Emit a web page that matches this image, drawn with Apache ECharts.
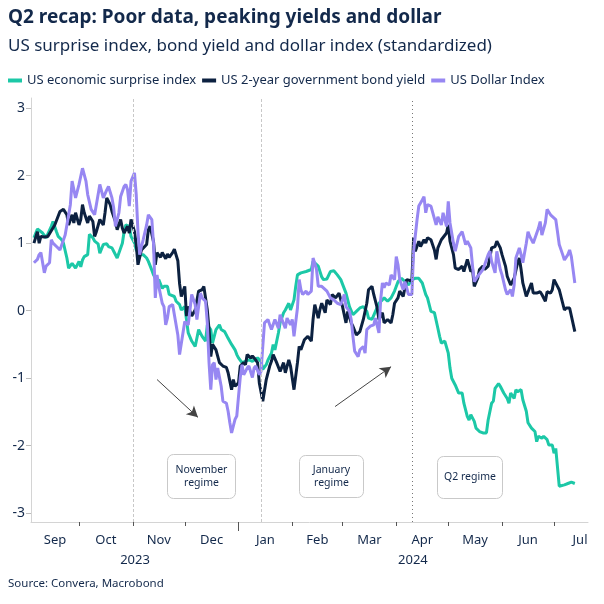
<!DOCTYPE html>
<html>
<head>
<meta charset="utf-8">
<script src="https://cdn.jsdelivr.net/npm/echarts@6/dist/echarts.min.js"></script>
<style>
html,body{margin:0;padding:0;background:#fff;}
#chart{width:604px;height:604px;}
</style>
</head>
<body>
<div id="chart"></div>
<script>
// x positions: days since 2023-09-01
const surpriseDays = [4,6,7,9,11,12,14,15,17,18,20,21,23,24,26,27,28,30,31,32,33,35,36,38,39,41,42,44,46,47,49,50,52,53,55,56,57,59,60,62,63,65,67,69,70,72,73,75,76,78,79,81,82,83,85,86,88,89,91,93,95,97,99,101,103,104,106,107,109,111,112,114,116,118,120,121,122,124,126,128,130,131,133,135,136,138,139,141,142,143,145,146,148,149,151,152,154,155,156,158,161,162,164,165,166,168,170,171,173,175,177,179,181,182,184,186,188,190,192,194,196,197,199,201,203,205,206,208,210,212,214,216,218,220,222,224,226,228,230,231,233,235,237,238,239,241,243,244,245,247,249,251,252,254,255,256,258,259,261,263,265,266,268,269,270,272,273,275,277,278,279,281,282,283,285,286,288,289,291,293,294,295,297,298,300,301,303,304,305,306,307,308,310,312,314,316];
const surpriseValues = [1.08,1.21,1.22,1.15,1.08,1.10,1.25,1.32,1.17,1.10,1.05,1.00,0.78,0.63,0.70,0.70,0.63,0.73,0.65,0.75,0.80,0.83,1.13,1.08,1.03,0.99,0.85,0.98,0.99,0.95,0.93,0.88,0.78,0.80,1.00,1.17,1.27,1.25,1.10,1.00,0.90,0.83,0.83,0.78,0.73,0.60,0.53,0.43,0.46,0.33,0.36,0.36,0.24,0.24,0.21,0.14,0.09,0.01,0.06,-0.33,-0.45,-0.53,-0.28,-0.38,-0.45,-0.21,-0.28,-0.48,-0.28,-0.21,-0.28,-0.31,-0.41,-0.50,-0.58,-0.65,-0.70,-0.77,-0.75,-0.73,-0.75,-0.73,-0.70,-0.75,-0.87,-0.80,-0.73,-0.63,-0.50,-0.58,-0.33,-0.18,-0.03,0.01,0.11,0.01,0.16,0.36,0.53,0.56,0.58,0.58,0.61,0.73,0.75,0.66,0.50,0.46,0.47,0.58,0.59,0.53,0.46,0.46,0.26,0.06,-0.06,-0.01,0.04,0.06,-0.01,-0.11,-0.13,-0.01,0.11,0.16,0.19,0.14,0.19,0.29,0.43,0.48,0.43,0.38,0.46,0.48,0.48,0.41,0.24,0.19,-0.01,-0.03,-0.26,-0.38,-0.48,-0.45,-0.63,-0.85,-1.00,-1.10,-1.22,-1.22,-1.37,-1.57,-1.62,-1.54,-1.64,-1.74,-1.79,-1.81,-1.81,-1.62,-1.37,-1.34,-1.15,-1.08,-1.12,-1.22,-1.30,-1.37,-1.22,-1.30,-1.17,-1.20,-1.17,-1.32,-1.49,-1.66,-1.74,-1.79,-1.94,-1.86,-1.89,-1.86,-1.91,-1.99,-1.99,-2.11,-2.04,-2.04,-2.60,-2.60,-2.58,-2.56,-2.54,-2.56];

const yieldDays = [4,6,7,8,10,12,13,16,19,21,23,24,26,27,28,30,31,32,33,35,36,38,39,40,42,44,45,46,48,49,51,52,54,55,56,58,59,60,62,63,64,66,67,69,70,71,73,74,75,77,78,80,81,82,84,85,87,88,89,91,92,93,95,97,99,101,102,104,105,106,107,109,111,113,115,116,118,119,120,122,123,125,126,127,129,130,131,133,134,136,137,138,140,141,142,144,145,146,148,149,151,152,154,156,157,158,160,162,164,165,166,168,169,170,172,173,175,176,178,180,181,182,184,185,187,188,190,192,194,196,197,199,200,202,203,205,206,208,210,211,212,214,215,217,218,219,220,222,223,224,226,227,229,230,231,233,235,236,237,239,240,242,243,244,246,247,249,251,252,254,256,257,258,260,261,263,264,266,268,270,271,273,274,276,277,279,280,281,283,284,285,286,288,289,291,292,294,296,297,299,300,302,303,304,306,307,308,310,311,313,314,316];
const yieldValues = [1.00,1.17,1.00,1.10,1.09,1.10,1.08,1.27,1.47,1.50,1.42,1.27,1.42,1.30,1.45,1.27,1.35,1.57,1.45,1.30,1.40,1.32,1.10,1.17,1.35,1.27,1.45,1.67,1.57,1.47,1.32,1.20,1.35,1.22,1.15,1.25,1.15,1.35,1.17,0.98,0.68,0.90,0.88,0.98,1.20,1.25,1.02,0.68,0.86,0.79,0.86,0.77,0.84,0.79,0.86,0.91,0.74,0.40,0.21,0.36,-0.08,0.06,-0.08,0.01,0.29,0.31,0.36,0.01,-0.28,-0.68,-0.50,-0.58,-0.77,-0.82,-0.84,-0.92,-1.17,-1.02,-1.12,-1.07,-0.82,-0.77,-0.80,-0.65,-0.70,-0.67,-0.70,-0.77,-1.07,-1.34,-1.32,-1.02,-0.82,-0.75,-0.65,-0.77,-0.75,-0.90,-0.77,-0.92,-0.73,-0.82,-1.17,-0.77,-0.53,-0.58,-0.43,-0.38,-0.45,-0.13,0.09,-0.11,0.02,0.11,-0.03,0.16,0.09,0.24,0.19,0.26,0.16,0.06,-0.18,-0.01,-0.18,-0.23,-0.36,-0.31,-0.13,0.11,0.31,0.36,0.24,0.04,-0.13,-0.03,-0.18,-0.13,-0.18,-0.06,0.11,0.19,0.29,0.21,0.34,0.46,0.48,0.44,1.08,0.88,1.03,0.95,1.05,1.00,1.08,1.05,0.90,0.76,0.93,1.05,1.05,1.15,1.27,1.03,0.83,0.63,0.61,0.66,0.58,0.76,0.58,0.61,0.36,0.48,0.61,0.66,0.61,0.66,0.93,0.95,1.03,0.93,0.83,0.66,0.51,0.38,0.36,0.48,0.71,0.78,0.61,0.41,0.21,0.21,0.41,0.26,0.26,0.28,0.24,0.14,0.28,0.26,0.31,0.46,0.36,0.31,0.31,0.01,0.04,0.04,0.04,-0.31];

const dollarDays = [4,6,7,8,10,11,13,14,15,17,19,20,22,23,25,26,28,29,30,32,33,34,35,37,38,39,40,42,43,44,46,47,49,50,51,53,54,56,57,58,59,60,62,63,64,65,66,67,69,70,72,73,74,75,76,78,79,80,81,82,84,85,87,88,89,91,93,94,95,97,98,100,101,103,104,105,106,107,108,109,110,112,113,115,116,117,118,120,121,122,123,124,125,127,128,130,131,132,134,135,136,137,139,140,141,143,145,146,147,149,150,152,153,154,156,157,158,159,161,162,164,165,166,167,168,170,171,173,175,177,179,181,182,183,184,186,187,188,189,191,192,194,195,196,198,200,201,203,204,205,206,207,209,210,212,213,214,215,217,218,219,220,222,223,225,226,228,229,230,231,233,234,236,237,239,240,242,243,244,246,247,249,251,253,254,256,257,258,260,261,263,264,266,267,268,270,271,273,274,276,277,279,280,281,282,284,285,286,288,289,290,292,293,295,296,297,299,300,302,303,305,306,307,309,310,312,313,314,316];
const dollarValues = [0.71,0.76,0.83,0.86,0.56,0.66,0.71,1.05,1.00,0.95,0.90,0.90,1.12,1.27,1.57,1.92,1.67,1.65,1.87,2.11,2.09,1.92,1.72,1.50,1.52,1.42,1.57,1.87,1.89,1.67,1.79,1.84,1.67,1.52,1.25,1.45,1.69,1.84,1.87,1.79,1.55,1.92,2.04,1.72,1.17,0.83,0.95,1.05,1.27,1.42,1.35,0.98,0.19,0.53,0.36,0.11,0.06,-0.21,-0.11,0.06,0.09,-0.06,-0.36,-0.65,-0.65,-0.16,-0.21,0.01,0.24,0.09,-0.13,0.26,0.19,0.14,-0.18,-0.77,-1.17,-0.80,-0.77,-1.02,-0.85,-1.12,-1.34,-1.37,-1.49,-1.66,-1.81,-1.61,-1.56,-1.27,-0.99,-0.80,-0.95,-0.85,-0.82,-0.99,-0.85,-0.82,-0.95,-0.90,-0.53,-0.18,-0.13,-0.21,-0.28,-0.13,-0.26,-0.06,-0.08,-0.26,-0.11,-0.21,-0.13,-0.38,0.04,0.46,0.31,0.24,0.29,0.24,0.29,0.78,0.70,0.61,0.36,0.36,0.34,0.29,0.19,0.16,0.11,0.09,0.16,0.24,0.06,-0.01,-0.13,-0.38,-0.60,-0.68,-0.58,-0.53,-0.63,-0.28,-0.23,-0.21,-0.11,-0.33,0.16,0.41,0.34,0.41,0.38,0.53,0.46,0.80,0.68,0.46,0.31,0.43,0.34,0.24,0.24,0.88,1.35,1.55,1.64,1.69,1.45,1.57,1.55,1.55,1.27,1.39,1.27,1.45,1.25,1.62,1.30,1.00,0.88,1.10,1.17,0.98,1.03,0.93,0.66,0.43,0.51,0.53,0.61,0.68,0.83,0.88,0.73,0.56,0.88,0.61,0.53,0.31,0.24,0.31,0.21,0.38,0.78,0.93,0.83,0.71,1.00,1.17,1.10,1.00,1.00,1.22,1.32,1.12,1.30,1.50,1.42,1.42,1.35,1.17,0.98,0.83,0.75,0.83,0.90,0.80,0.41];

const seriesNames = ['US economic surprise index','US 2-year government bond yield','US Dollar Index'];
const seriesColors = ['#1cc8a7','#0c2140','#9787f2'];

// month boundaries (days since 2023-09-01) and month labels
const monthTickDays = [0,30,61,91,122,153,182,213,243,274,304];
const monthLabels = ['Sep','Oct','Nov','Dec','Jan','Feb','Mar','Apr','May','Jun','Jul'];
const monthLabelDays = [16.2,45.5,76,106.5,137.5,167.5,197.5,228,258.5,289,319];
const yearLabels = ['2023','2024'];
const yearLabelDays = [62.3,222.6];
const yearBoundaryDay = 122;
const regimeLineDays = [61,135.4,222.2];
const yTicks = [-3,-2,-1,0,1,2,3];
const xMinDay = 2.3, xMaxDay = 323.6;

const navy = '#13294b';
const FONT = 'Noto Sans';

function pairs(days, vals){ return days.map((d,i)=>[d, vals[i]]); }
function nearestLabel(v, days, labels){
  let best=0, bd=Infinity;
  days.forEach((d,i)=>{ const dd=Math.abs(d-v); if(dd<bd){bd=dd;best=i;} });
  return labels[best];
}

const chart = echarts.init(document.getElementById('chart'), null, {renderer:'canvas'});

const option = {
  animation:false,
  backgroundColor:'#ffffff',
  textStyle:{fontFamily:FONT},
  title:[
    {text:'Q2 recap: Poor data, peaking yields and dollar', left:8, top:8, padding:0,
     textStyle:{fontFamily:FONT, fontSize:19, fontWeight:'bold', color:navy}},
    {text:'US surprise index, bond yield and dollar index (standardized)', left:8, top:38, padding:0,
     textStyle:{fontFamily:FONT, fontSize:17, fontWeight:'normal', color:navy}},
    {text:'Source: Convera, Macrobond', left:8, top:578, padding:0,
     textStyle:{fontFamily:FONT, fontSize:11.5, fontWeight:'normal', color:navy}}
  ],
  legend:{
    data:seriesNames, left:8, top:74, padding:0, itemGap:6,
    icon:'rect', itemWidth:14, itemHeight:4,
    textStyle:{fontFamily:FONT, fontSize:13, color:navy}
  },
  grid:{left:31, right:16, top:98, bottom:82, containLabel:false, outerBoundsMode:'none'},
  xAxis:[
    {type:'value', min:xMinDay, max:xMaxDay, position:'bottom',
     axisLine:{show:true, onZero:false, lineStyle:{color:'#d4d4d4', width:1}},
     axisTick:{show:true, length:4, lineStyle:{color:'#555'}, customValues:monthTickDays},
     axisLabel:{show:true, customValues:monthLabelDays, margin:12, fontSize:13, color:navy, fontFamily:FONT,
       formatter:v=>nearestLabel(v, monthLabelDays, monthLabels), hideOverlap:false, showMinLabel:true, showMaxLabel:true},
     splitLine:{show:false}},
    {type:'value', min:xMinDay, max:xMaxDay, position:'bottom', gridIndex:0,
     axisLine:{show:false, onZero:false},
     axisTick:{show:true, length:9, lineStyle:{color:'#555'}, customValues:[yearBoundaryDay]},
     axisLabel:{show:true, customValues:yearLabelDays, margin:32, fontSize:13, color:navy, fontFamily:FONT,
       formatter:v=>nearestLabel(v, yearLabelDays, yearLabels), hideOverlap:false},
     splitLine:{show:false}}
  ],
  yAxis:{type:'value', min:-3.13, max:3.15,
    axisLine:{show:true, onZero:false, lineStyle:{color:'#d4d4d4', width:1}},
    axisTick:{show:true, length:5, lineStyle:{color:'#bbb'}, customValues:yTicks},
    axisLabel:{show:true, customValues:yTicks, margin:6, fontSize:14, color:navy, fontFamily:FONT},
    splitLine:{show:false}},
  series:[
    {name:seriesNames[0], type:'line', data:pairs(surpriseDays, surpriseValues), showSymbol:false,
     lineStyle:{width:3, color:seriesColors[0]}, itemStyle:{color:seriesColors[0]}, z:2,
     markLine:{silent:true, symbol:['none','none'], label:{show:false},
       data:[
         {xAxis:regimeLineDays[0], lineStyle:{color:'#c8c8c8', type:[3,2], width:1}},
         {xAxis:regimeLineDays[1], lineStyle:{color:'#c8c8c8', type:[3,2], width:1}},
         {xAxis:regimeLineDays[2], lineStyle:{color:'#777', type:[1,3], width:1}}
       ]}},
    {name:seriesNames[1], type:'line', data:pairs(yieldDays, yieldValues), showSymbol:false,
     lineStyle:{width:3, color:seriesColors[1]}, itemStyle:{color:seriesColors[1]}, z:3},
    {name:seriesNames[2], type:'line', data:pairs(dollarDays, dollarValues), showSymbol:false,
     lineStyle:{width:3, color:seriesColors[2]}, itemStyle:{color:seriesColors[2]}, z:4,
     markLine:{silent:true, symbol:['none','arrow'], symbolSize:[9,11], label:{show:false},
       lineStyle:{color:'#444', type:'solid', width:1},
       data:[
         [{coord:[75.0, -1.02]}, {coord:[98.6, -1.58]}],
         [{coord:[177.7, -1.42]}, {coord:[210.0, -0.83]}]
       ]}}
  ],
  graphic:[
    {type:'group', left:167, top:454, children:[
      {type:'rect', shape:{x:0,y:0,width:68,height:44,r:6}, style:{fill:'#fff', stroke:'#c9c9c9', lineWidth:1}},
      {type:'text', x:34, y:22, style:{text:'November\nregime', fontSize:10.5, lineHeight:13, fontFamily:FONT, fill:navy, align:'center', verticalAlign:'middle'}}
    ]},
    {type:'group', left:299, top:455, children:[
      {type:'rect', shape:{x:0,y:0,width:64,height:42,r:6}, style:{fill:'#fff', stroke:'#c9c9c9', lineWidth:1}},
      {type:'text', x:32, y:21, style:{text:'January\nregime', fontSize:10.5, lineHeight:13, fontFamily:FONT, fill:navy, align:'center', verticalAlign:'middle'}}
    ]},
    {type:'group', left:437, top:456, children:[
      {type:'rect', shape:{x:0,y:0,width:65,height:42,r:6}, style:{fill:'#fff', stroke:'#c9c9c9', lineWidth:1}},
      {type:'text', x:32.5, y:21, style:{text:'Q2 regime', fontSize:10.5, fontFamily:FONT, fill:navy, align:'center', verticalAlign:'middle'}}
    ]}
  ]
};
chart.setOption(option);
</script>
</body>
</html>
